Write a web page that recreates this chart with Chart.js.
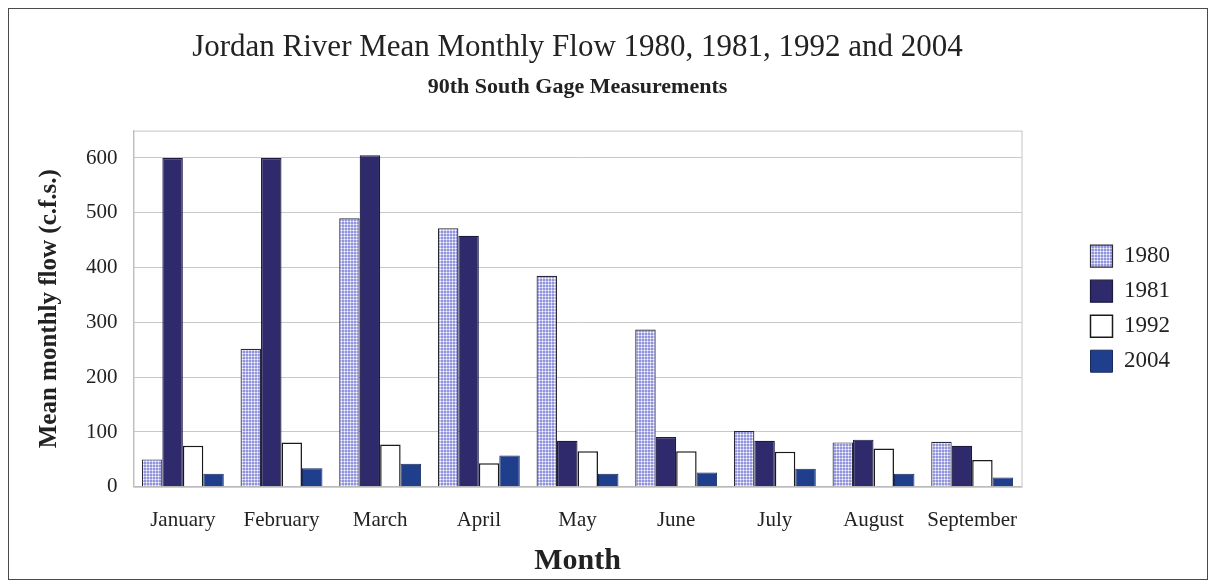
<!DOCTYPE html>
<html>
<head>
<meta charset="utf-8">
<script src="https://cdn.jsdelivr.net/npm/chart.js@4.4.1/dist/chart.umd.min.js"></script>
<style>
  html, body { margin: 0; padding: 0; background: #fff; }
  #box {
    position: absolute; left: 8px; top: 8px;
    width: 1198px; height: 570px;
    border: 1.5px solid #4a4a4a;
  }
  canvas { display: block; }
</style>
</head>
<body>
<div id="box"><canvas id="grafico" width="1198" height="570"></canvas></div>
<script>
// dados
const months = ["January", "February", "March", "April", "May", "June", "July", "August", "September"];
const flow1980 = [50, 252, 490, 472, 385, 287, 102, 81, 82];
const flow1981 = [600, 600, 605, 458, 84, 91, 84, 86, 75];
const flow1992 = [75, 81, 77, 43, 65, 65, 64, 70, 49];
const flow2004 = [24, 34, 42, 57, 24, 26, 33, 24, 17];
const yearLabels = ["1980", "1981", "1992", "2004"];

const serif = "'Liberation Serif', 'DejaVu Serif', serif";

// padrão quadriculado da série 1980
function makePattern(){
    const c = document.createElement("canvas");
    c.width = 3; c.height = 3;
    const ctx = c.getContext("2d");
    ctx.fillStyle = "#ffffff";
    ctx.fillRect(0, 0, 3, 3);
    ctx.fillStyle = "#9396dc";
    ctx.fillRect(0, 0, 2, 2);
    ctx.fillStyle = "#c6c8ee";
    ctx.fillRect(2, 0, 1, 2);
    ctx.fillRect(0, 2, 2, 1);
    return ctx.createPattern(c, "repeat");
}

// moldura da área do gráfico
const plotBorder = {
    id: "plotBorder",
    afterDraw(chart){
        const a = chart.chartArea, ctx = chart.ctx;
        ctx.save();
        ctx.strokeStyle = "#c4c4c4";
        ctx.lineWidth = 1;
        ctx.strokeRect(a.left + 0.5, a.top + 0.5, a.right - a.left, a.bottom - a.top);
        ctx.restore();
    }
};

const canvas = document.getElementById("grafico");

new Chart(canvas, {
    type: "bar",
    data: {
        labels: months,
        datasets: [
            { label: yearLabels[0], data: flow1980, backgroundColor: makePattern(), borderColor: "#2a2a3a", borderWidth: 1.2 },
            { label: yearLabels[1], data: flow1981, backgroundColor: "#2e2a6c", borderColor: "#1c1a40", borderWidth: 1.2 },
            { label: yearLabels[2], data: flow1992, backgroundColor: "#ffffff", borderColor: "#1a1a1a", borderWidth: 1.5 },
            { label: yearLabels[3], data: flow2004, backgroundColor: "#1f3f8c", borderColor: "#1a2a5a", borderWidth: 1 }
        ]
    },
    options: {
        responsive: false,
        animation: false,
        layout: { padding: { left: 26, right: 27, top: 20, bottom: 3 } },
        datasets: { bar: { categoryPercentage: 0.83, barPercentage: 1.0 } },
        plugins: {
            title: {
                display: true,
                fullSize: false,
                text: "Jordan River Mean Monthly Flow 1980, 1981, 1992 and 2004",
                color: "#222",
                font: { family: serif, size: 31, weight: "normal" },
                padding: { top: 0, bottom: 8 }
            },
            subtitle: {
                display: true,
                fullSize: false,
                text: "90th South Gage Measurements",
                color: "#222",
                font: { family: serif, size: 22, weight: "bold" },
                padding: { top: 0, bottom: 30 }
            },
            legend: {
                position: "right",
                fullSize: false,
                labels: {
                    color: "#222",
                    font: { family: serif, size: 23 },
                    boxWidth: 22,
                    boxHeight: 22,
                    padding: 12
                }
            },
            tooltip: { enabled: false }
        },
        scales: {
            x: {
                grid: { display: false },
                border: { color: "#b8b8b8" },
                ticks: { color: "#222", font: { family: serif, size: 21 }, padding: 13 },
                title: {
                    display: true,
                    text: "Month",
                    color: "#222",
                    font: { family: serif, size: 30, weight: "bold", lineHeight: 1 },
                    padding: { top: 0, bottom: 0 }
                }
            },
            y: {
                min: 0,
                max: 650,
                grid: { color: "#c8c8c8", drawTicks: false },
                border: { color: "#b8b8b8" },
                ticks: {
                    stepSize: 50,
                    color: "#222",
                    font: { family: serif, size: 21 },
                    padding: 16,
                    callback: v => (v % 100 === 0 ? v : "")
                },
                title: {
                    display: true,
                    text: "Mean monthly flow (c.f.s.)",
                    color: "#222",
                    font: { family: serif, size: 25, weight: "bold" },
                    padding: { top: 0, bottom: 5 }
                }
            },
            // eixo vazio só para afastar a legenda da área do gráfico
            gap: {
                type: "linear",
                position: "right",
                grid: { display: false },
                border: { display: false },
                ticks: { display: false },
                afterFit: s => { s.width = 57; }
            }
        }
    },
    plugins: [plotBorder]
});
</script>
</body>
</html>
